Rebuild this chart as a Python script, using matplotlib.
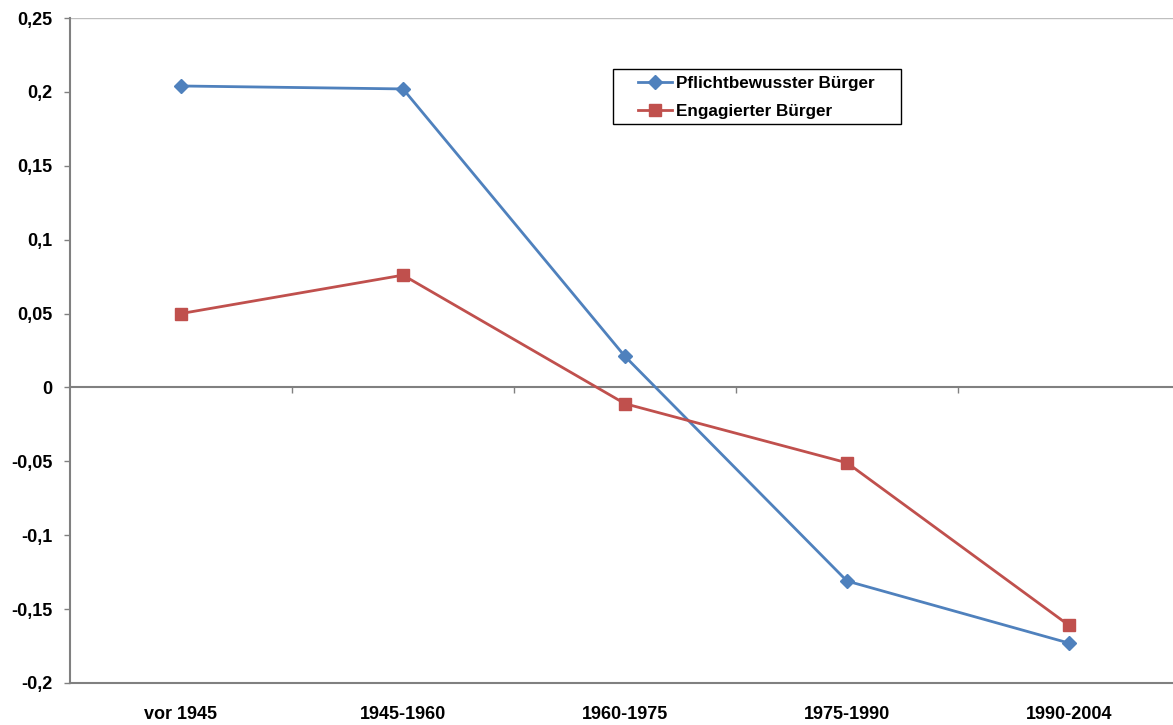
import matplotlib
matplotlib.use("Agg")
import matplotlib.pyplot as plt
from matplotlib.ticker import FuncFormatter, FixedLocator
from matplotlib.patches import Rectangle

categories = ["vor 1945", "1945-1960", "1960-1975", "1975-1990", "1990-2004"]
pflicht = [0.204, 0.202, 0.021, -0.131, -0.173]
engagiert = [0.050, 0.076, -0.011, -0.051, -0.161]
series_names = ["Pflichtbewusster Bürger", "Engagierter Bürger"]
yticks = [-0.2, -0.15, -0.1, -0.05, 0, 0.05, 0.1, 0.15, 0.2, 0.25]

plt.rcParams['font.family'] = ['Liberation Sans', 'DejaVu Sans']
plt.rcParams['font.weight'] = 'bold'

W, H = 1173, 725
fig = plt.figure(figsize=(W/100, H/100), dpi=100)
left, right, top, bottom = 70, 1180, 18, 683
ax = fig.add_axes([left/W, 1 - bottom/H, (right-left)/W, (bottom-top)/H])

x = list(range(len(categories)))
ax.plot(x, pflicht, color='#4F81BD', lw=2.0, marker='D', ms=7,
        mfc='#4F81BD', mec='#4F81BD', label=series_names[0], zorder=3)
ax.plot(x, engagiert, color='#C0504D', lw=2.0, marker='s', ms=8.5,
        mfc='#C0504D', mec='#C0504D', label=series_names[1], zorder=3)

ax.set_xlim(-0.5, len(categories) - 0.5)
ax.set_ylim(-0.2, 0.25)

ax.set_yticks(yticks)
def fmt(v, pos):
    s = ('%.2f' % v).rstrip('0').rstrip('.')
    if s in ('-0', '0'):
        s = '0'
    return s.replace('.', ',')
ax.yaxis.set_major_formatter(FuncFormatter(fmt))
ax.tick_params(axis='y', direction='out', length=4.5, width=1, color='#808080',
               labelsize=13, pad=8)

# bottom labels
ax.set_xticks(x)
ax.set_xticklabels(categories)
ax.tick_params(axis='x', which='major', length=0, pad=16.5, bottom=True, top=False,
               labelsize=13)

# zero line as top spine with ticks at category boundaries
ax.spines['top'].set_position(('data', 0))
ax.spines['top'].set_color('#808080')
ax.spines['top'].set_linewidth(1.5)
ax.xaxis.set_minor_locator(FixedLocator([i + 0.5 for i in range(len(categories) - 1)]))
ax.tick_params(axis='x', which='minor', top=True, bottom=False, direction='in',
               length=4.5, width=1, color='#808080')

ax.spines['left'].set_color('#808080')
ax.spines['left'].set_linewidth(1.5)
ax.spines['bottom'].set_color('#808080')
ax.spines['bottom'].set_linewidth(1.5)
ax.spines['right'].set_visible(False)
ax.axhline(0.25, color='#BFBFBF', lw=1.0, zorder=1)

leg = ax.legend(loc='upper left', bbox_to_anchor=(638/W, 1 - 76/H),
                bbox_transform=fig.transFigure, frameon=False,
                fontsize=12.3, handlelength=2.0, borderpad=0, labelspacing=0.78,
                handletextpad=0.2, borderaxespad=0)
for t in leg.get_texts():
    t.set_fontweight('bold')
fig.add_artist(Rectangle((613/W, 1 - 124/H), 288/W, 55/H, transform=fig.transFigure,
                         fill=False, ec='#000000', lw=1.0))

fig.savefig('out.png', dpi=100)
